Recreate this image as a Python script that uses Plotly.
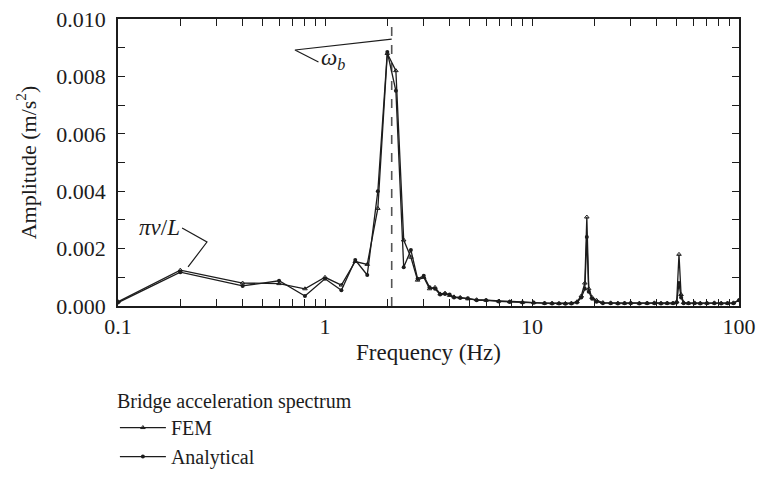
import math
import plotly.graph_objects as go

# ---------------- data ----------------
freq = [0.1, 0.2, 0.4, 0.6, 0.8, 1.0, 1.2, 1.4, 1.6, 1.8, 2.0, 2.2, 2.4, 2.6, 2.8,
        3.0, 3.2, 3.4, 3.6, 3.8, 4.0, 4.2, 4.5, 4.9, 5.4, 6.0, 6.9, 7.8, 9.0,
        10.2, 11.5, 12.5, 13.5, 14.5, 15.5, 16.5, 17.3, 18.0, 18.4, 18.8, 19.5,
        20.5, 22, 24, 26, 28, 30, 33, 36, 39, 42, 45, 48, 50, 51.3, 52.5, 54,
        57, 61, 65, 70, 76, 82, 88, 94, 100]

fem = [0.00015, 0.00125, 0.00080, 0.00078, 0.00060, 0.00100, 0.00073, 0.00155, 0.00145,
       0.00340, 0.00880, 0.00820, 0.00230, 0.00170, 0.00090, 0.00100, 0.00060, 0.00065,
       0.00042, 0.00045, 0.00037, 0.00032, 0.00030, 0.00025, 0.00022, 0.00020, 0.00017,
       0.00015, 0.00013, 0.00012, 0.00010, 0.00010, 0.00009, 0.00009, 0.00010, 0.00015,
       0.00035, 0.00080, 0.00310, 0.00060, 0.00030, 0.00020, 0.00012, 0.00011, 0.00010,
       0.00010, 0.00011, 0.00010, 0.00010, 0.00011, 0.00010, 0.00010, 0.00010, 0.00015,
       0.00180, 0.00040, 0.00012, 0.00010, 0.00011, 0.00010, 0.00010, 0.00011, 0.00010,
       0.00010, 0.00011, 0.00020]

analytical = [0.00012, 0.00118, 0.00070, 0.00088, 0.00035, 0.00095, 0.00055, 0.00160, 0.00108,
              0.00400, 0.00885, 0.00750, 0.00135, 0.00195, 0.00095, 0.00105, 0.00065, 0.00060,
              0.00040, 0.00042, 0.00040, 0.00030, 0.00028, 0.00027, 0.00020, 0.00020, 0.00016,
              0.00014, 0.00012, 0.00011, 0.00010, 0.00009, 0.00009, 0.00008, 0.00009, 0.00012,
              0.00030, 0.00060, 0.00240, 0.00050, 0.00025, 0.00015, 0.00010, 0.00010, 0.00009,
              0.00010, 0.00010, 0.00009, 0.00010, 0.00010, 0.00009, 0.00010, 0.00010, 0.00012,
              0.00080, 0.00030, 0.00010, 0.00010, 0.00010, 0.00009, 0.00010, 0.00010, 0.00009,
              0.00010, 0.00010, 0.00020]

omega_b = 2.1  # bridge frequency (Hz), dashed line

x_tickvals = [0.1, 0.2, 0.3, 0.4, 0.5, 0.6, 0.7, 0.8, 0.9,
              1, 2, 3, 4, 5, 6, 7, 8, 9,
              10, 20, 30, 40, 50, 60, 70, 80, 90, 100]
x_ticklabels = {0.1: "0.1", 1: "1", 10: "10", 100: "100"}
y_tickvals = [0.000, 0.002, 0.004, 0.006, 0.008, 0.010]

# leader lines for annotations (Hz, amplitude)
omega_leader_x = [0.93, 0.716, 2.1]
omega_leader_y = [0.0085, 0.00892, 0.0093]
pi_leader_x = [0.204, 0.269, 0.218]
pi_leader_y = [0.00272, 0.00223, 0.00136]

FONT = "Liberation Serif"
INK = "#1c1c1c"

fig = go.Figure()

fig.add_trace(go.Scatter(
    x=[omega_b, omega_b], y=[0, 0.010], mode="lines",
    line=dict(color="#555555", width=1.6, dash="dash"),
    showlegend=False, hoverinfo="skip"))

fig.add_trace(go.Scatter(
    x=freq, y=fem, mode="lines+markers", name="FEM",
    line=dict(color=INK, width=1.3),
    marker=dict(symbol="triangle-up-open", size=4, color=INK, line=dict(width=1))))

fig.add_trace(go.Scatter(
    x=freq, y=analytical, mode="lines+markers", name="Analytical",
    line=dict(color=INK, width=1.3),
    marker=dict(symbol="circle", size=4, color=INK)))

fig.add_trace(go.Scatter(
    x=omega_leader_x, y=omega_leader_y, mode="lines",
    line=dict(color=INK, width=1.2), showlegend=False, hoverinfo="skip"))
fig.add_trace(go.Scatter(
    x=pi_leader_x, y=pi_leader_y, mode="lines",
    line=dict(color=INK, width=1.2), showlegend=False, hoverinfo="skip"))

fig.add_annotation(x=math.log10(0.94), y=0.0086, xref="x", yref="y",
                   text="<i>ω</i><sub><i>b</i></sub>", showarrow=False,
                   xanchor="left", yanchor="middle",
                   font=dict(family=FONT, size=23, color=INK))
fig.add_annotation(x=math.log10(0.2035), y=0.00275, xref="x", yref="y",
                   text="<i>πν</i>/<i>L</i>", showarrow=False,
                   xanchor="right", yanchor="middle",
                   font=dict(family=FONT, size=23, color=INK))

fig.update_xaxes(
    type="log", range=[-1, 2],
    tickvals=x_tickvals,
    ticktext=[x_ticklabels.get(v, "") for v in x_tickvals],
    ticks="inside", ticklen=7, tickwidth=1.2, tickcolor=INK,
    showline=True, linecolor=INK, linewidth=1.5, mirror="ticks",
    showgrid=False, zeroline=False,
    title=dict(text="Frequency (Hz)", standoff=6, font=dict(family=FONT, size=23)),
    tickfont=dict(family=FONT, size=22, color=INK),
    ticklabelstandoff=0)

fig.update_yaxes(
    range=[0, 0.010],
    tickvals=y_tickvals, tickformat=".3f",
    ticks="inside", ticklen=7, tickwidth=1.2, tickcolor=INK,
    minor=dict(dtick=0.001, ticks="inside", ticklen=7, tickwidth=1.2, tickcolor=INK),
    showline=True, linecolor=INK, linewidth=1.5, mirror="ticks",
    showgrid=False, zeroline=False,
    title=dict(text="Amplitude (m/s<sup>2</sup>)", standoff=14, font=dict(family=FONT, size=22)),
    tickfont=dict(family=FONT, size=22, color=INK),
    ticklabelstandoff=6)

fig.update_layout(
    width=759, height=477,
    margin=dict(l=118, r=20, t=19, b=171, autoexpand=False),
    paper_bgcolor="white", plot_bgcolor="white",
    font=dict(family=FONT, size=20, color=INK),
    legend=dict(
        title=dict(text="Bridge acceleration spectrum", font=dict(family=FONT, size=20)),
        x=-0.005, xanchor="left", y=-0.265, yanchor="top",
        font=dict(family=FONT, size=20, color=INK),
        tracegroupgap=0, itemwidth=46,
        bgcolor="rgba(0,0,0,0)"),
)

fig.write_html("out.html")
